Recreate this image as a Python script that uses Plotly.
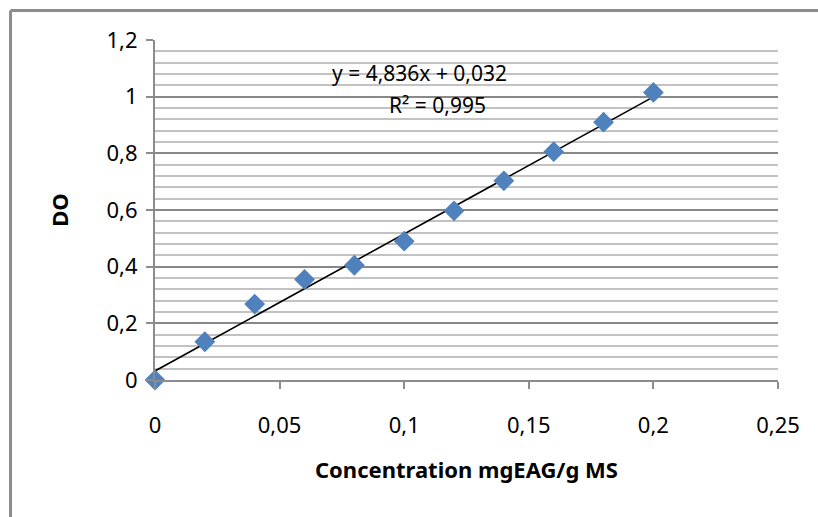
import plotly.graph_objects as go

concentration = [0, 0.02, 0.04, 0.06, 0.08, 0.10, 0.12, 0.14, 0.16, 0.18, 0.20]
do_values = [0.0, 0.135, 0.268, 0.355, 0.405, 0.49, 0.597, 0.703, 0.806, 0.91, 1.015]
slope = 4.836
intercept = 0.032
r2 = 0.995

def fmt(v, n):
    return f"{v:.{n}f}".replace(".", ",")

x_fit = [min(concentration), max(concentration)]
y_fit = [slope * x + intercept for x in x_fit]

FONT = "Noto Sans"
GRID_MAJOR = "#888888"
GRID_MINOR = "#c2c2c2"

fig = go.Figure()
fig.add_trace(go.Scatter(x=x_fit, y=y_fit, mode="lines",
                         line=dict(color="black", width=1.6),
                         hoverinfo="skip", showlegend=False))
fig.add_trace(go.Scatter(x=concentration, y=do_values, mode="markers",
                         marker=dict(symbol="diamond", size=16, color="#4f81bd"),
                         cliponaxis=False, showlegend=False))

fig.add_annotation(x=0.1063, y=1.084, xref="x", yref="y",
                   text=f"y = {fmt(slope,3)}x + {fmt(intercept,3)}",
                   showarrow=False, font=dict(family=FONT, size=21, color="black"))
fig.add_annotation(x=0.1132, y=0.971, xref="x", yref="y",
                   text=f"R² = {fmt(r2,3)}",
                   showarrow=False, font=dict(family=FONT, size=21, color="black"))

# outer chart frame (top + left edges)
fig.add_shape(type="line", xref="paper", yref="paper",
              x0=-0.2319, x1=1.2, y0=1.0868, y1=1.0868,
              line=dict(color="#8c8c8c", width=3))
fig.add_shape(type="line", xref="paper", yref="paper",
              x0=-0.2319, x1=-0.2319, y0=1.0868, y1=-0.45,
              line=dict(color="#8c8c8c", width=3))

fig.update_layout(
    width=818, height=517,
    margin=dict(l=155, r=40, t=40, b=137),
    paper_bgcolor="white", plot_bgcolor="white",
    separators=", ",
    font=dict(family=FONT, size=22, color="black"),
    xaxis=dict(range=[0, 0.25], dtick=0.05, tick0=0, showgrid=False,
               showline=True, linecolor="#8c8c8c", linewidth=2,
               ticks="outside", ticklen=7, tickcolor="#8c8c8c", tickwidth=2,
               ticklabelstandoff=18, zeroline=False,
               title=dict(text="<b>Concentration mgEAG/g MS</b>",
                          font=dict(family=FONT, size=22), standoff=24)),
    yaxis=dict(range=[0, 1.2], dtick=0.2, tick0=0, showgrid=True,
               gridcolor=GRID_MAJOR, gridwidth=2,
               minor=dict(dtick=0.04, showgrid=True, gridcolor=GRID_MINOR, gridwidth=2),
               showline=True, linecolor="#8c8c8c", linewidth=2,
               ticks="outside", ticklen=7, tickcolor="#8c8c8c", tickwidth=2,
               ticklabelstandoff=4, zeroline=False,
               title=dict(text="<b>DO</b>", font=dict(family=FONT, size=22), standoff=32)),
)

fig.write_html("out.html")
